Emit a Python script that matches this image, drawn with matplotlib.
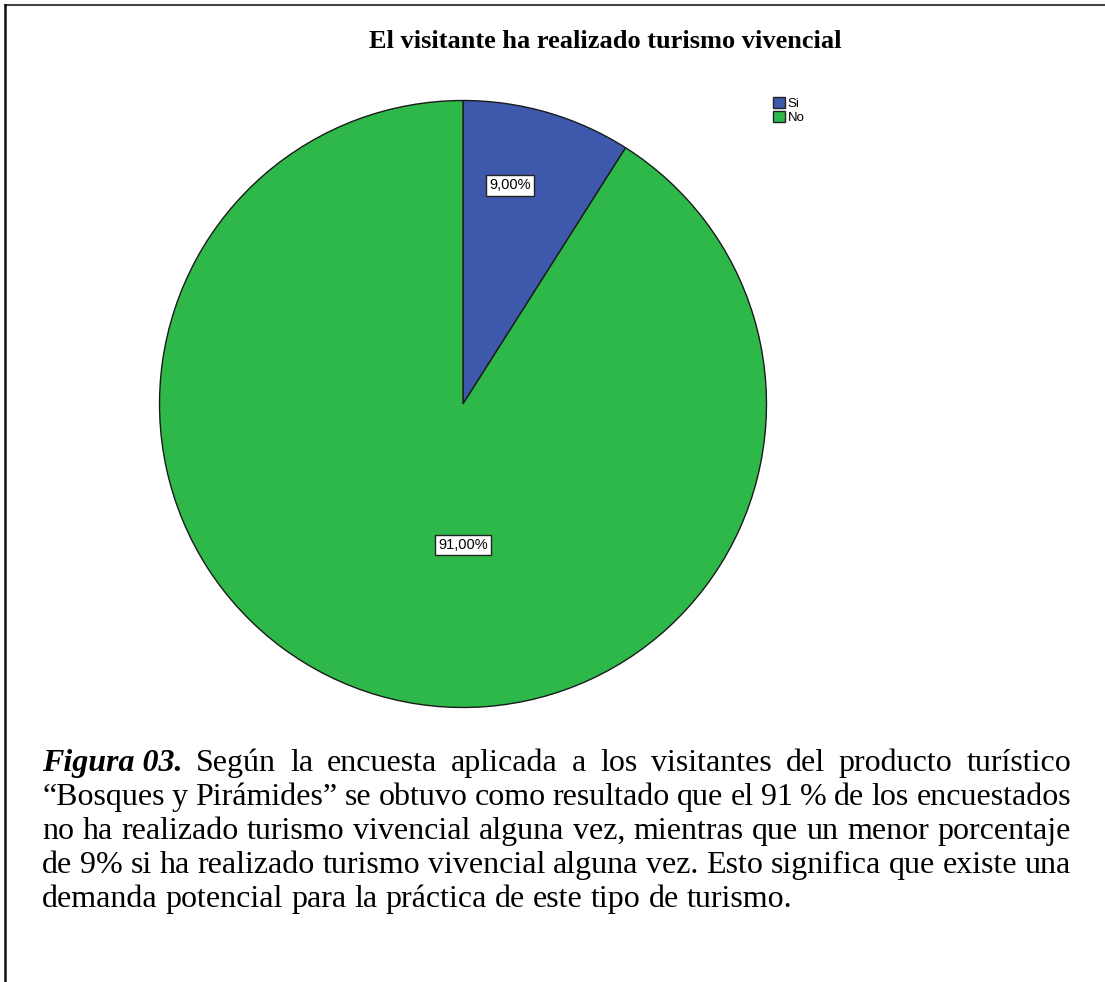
import numpy as np
import matplotlib.pyplot as plt
from matplotlib.patches import Patch
from matplotlib.lines import Line2D

# data
labels = ["Si", "No"]
values = [9.0, 91.0]
colors = ["#3e58ac", "#2fb84a"]
pct_text = ["9,00%", "91,00%"]

title = "El visitante ha realizado turismo vivencial"
caption_lines = [
    "Según la encuesta aplicada a los visitantes del producto turístico",
    "“Bosques y Pirámides” se obtuvo como resultado que el 91 % de los encuestados",
    "no ha realizado turismo vivencial alguna vez, mientras que un menor porcentaje",
    "de 9% si ha realizado turismo vivencial alguna vez. Esto significa que existe una",
    "demanda potencial para la práctica de este tipo de turismo.",
]
caption_lead = "Figura 03."

W, H = 1105, 982
fig = plt.figure(figsize=(W / 100, H / 100), dpi=100)
fig.patch.set_facecolor("white")


def px(x, y):
    # pixel coords (from top-left) -> figure fraction
    return x / W, 1 - y / H


# page frame (top and left edges only)
fig.add_artist(Line2D([5 / W, 1], [1 - 5 / H] * 2, color="#444444", lw=1.5))
fig.add_artist(Line2D([5 / W] * 2, [0, 1 - 5 / H], color="#111111", lw=1.8))

# pie
ax = fig.add_axes([158 / W, 1 - 710 / H, 610 / W, 612 / H])
wedges, _ = ax.pie(values, colors=colors, startangle=90, counterclock=False,
                   radius=1.0, wedgeprops=dict(edgecolor="#1a1a1a", linewidth=1.0))
ax.set_xlim(-1.005, 1.005)
ax.set_ylim(-1.005, 1.005)
ax.axis("off")

label_pos = [(0.155, 0.72), (0.0, -0.465)]
for (lx, ly), t in zip(label_pos, pct_text):
    ax.text(lx, ly, t, ha="center", va="center", fontsize=10.5, family="Liberation Sans",
            bbox=dict(boxstyle="square,pad=0.22", fc="white", ec="#222222", lw=1.0))

# legend
handles = [Patch(facecolor=c, edgecolor="#222222", label=l) for c, l in zip(colors, labels)]
fig.legend(handles=handles, loc="upper left", bbox_to_anchor=px(764, 88), frameon=False,
           prop={"family": "Liberation Sans", "size": 9.5}, handlelength=0.9, handleheight=0.9,
           handletextpad=0.2, labelspacing=0.05, borderpad=0.2)

# title
fig.text(*px(605, 48), title, ha="center", va="baseline", family="Liberation Serif",
         fontweight="bold", fontsize=19)

# caption with justified lines
fs = 23
left, right = 42, 1071
baselines = [771, 805, 839, 873, 907]
renderer = fig.canvas.get_renderer()


def width_px(s, **kw):
    t = fig.text(0, 0, s, family="Liberation Serif", fontsize=fs, **kw)
    w = t.get_window_extent(renderer).width
    t.remove()
    return w


for i, (line, yb) in enumerate(zip(caption_lines, baselines)):
    words = line.split(" ")
    items = [(w, {}) for w in words]
    if i == 0:
        items = [(caption_lead, dict(fontweight="bold", style="italic"))] + items
    widths = [width_px(w, **kw) for w, kw in items]
    if i < len(caption_lines) - 1:
        gap = (right - left - sum(widths)) / (len(items) - 1)
    else:
        gap = width_px("a b") - width_px("ab")
    x = left
    for (w, kw), wd in zip(items, widths):
        fig.text(*px(x, yb), w, ha="left", va="baseline", family="Liberation Serif",
                 fontsize=fs, **kw)
        x += wd + gap

fig.savefig("out.png", dpi=100)
